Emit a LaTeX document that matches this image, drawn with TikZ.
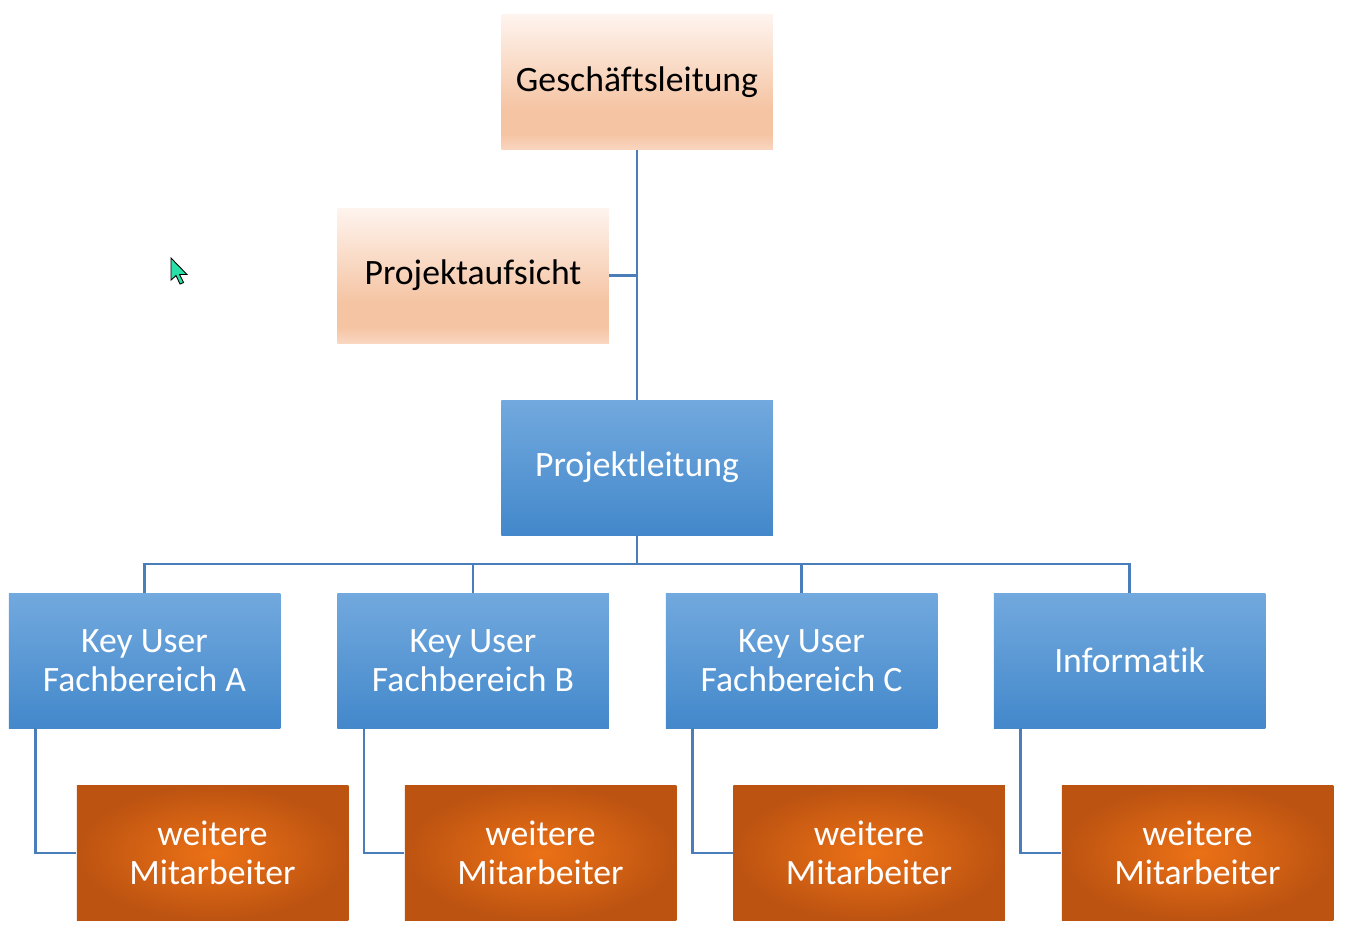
\documentclass[tikz,border=0pt]{standalone}
\usepackage{fontspec}
\setmainfont{Carlito}[Ligatures=NoCommon]
\definecolor{peachtop}{RGB}{254,244,238}
\definecolor{peachmid}{RGB}{245,196,163}
\definecolor{peachlow}{RGB}{249,214,192}
\definecolor{bluetop}{RGB}{114,169,222}
\definecolor{bluelow}{RGB}{67,136,203}
\definecolor{orangein}{RGB}{236,113,22}
\definecolor{orangeout}{RGB}{188,83,17}
\definecolor{linkblue}{RGB}{74,126,187}
\definecolor{cursorgreen}{RGB}{40,224,168}
\pgfdeclareverticalshading{peach}{100bp}{color(0bp)=(peachlow); color(25bp)=(peachlow); color(31bp)=(peachmid); color(40bp)=(peachmid); color(75bp)=(peachtop); color(100bp)=(peachtop)}
\begin{document}
\begin{tikzpicture}[line join=miter]
  \tikzstyle{box}=[rectangle,minimum width=5.43cm,minimum height=2.7cm,inner sep=2pt,align=center,font=\fontsize{20.3}{22.3}\selectfont]
  \tikzstyle{head}=[box,shading=peach,text=black]
  \tikzstyle{lead}=[box,top color=bluetop,bottom color=bluelow,text=white]
  \tikzstyle{staff}=[box,inner color=orangein,outer color=orangeout,text=white]
  \tikzstyle{link}=[draw=linkblue,line width=1.4pt]
  \useasboundingbox (0,0) rectangle (26.9,-18.62);

  \node[head] (GL) at (12.74,-1.65) {Geschäftsleitung};
  \node[head] (PA) at (9.46,-5.51)  {Projektaufsicht};
  \node[lead] (PL) at (12.74,-9.35) {Projektleitung};
  \coordinate (bus) at (12.74,-11.28);

  \node[lead] (K_1) at (2.89,-13.21)  {Key User\\Fachbereich A};
  \node[lead] (K_2) at (9.46,-13.21)  {Key User\\Fachbereich B};
  \node[lead] (K_3) at (16.03,-13.21) {Key User\\Fachbereich C};
  \node[lead] (K_4) at (22.59,-13.21) {Informatik};

  \node[staff] (M_1) at (4.25,-17.06)  {weitere\\Mitarbeiter};
  \node[staff] (M_2) at (10.81,-17.06) {weitere\\Mitarbeiter};
  \node[staff] (M_3) at (17.38,-17.06) {weitere\\Mitarbeiter};
  \node[staff] (M_4) at (23.95,-17.06) {weitere\\Mitarbeiter};

  \draw[link] (GL) -- (PL);
  \draw[link] (PA.east) -- (PA.east -| GL.south);
  \draw[link] (PL) -- (bus);
  \foreach \i in {1,...,4}
    \draw[link] (bus) -| (K_\i);
  \foreach \i in {1,...,4}
    \draw[link] ([xshift=0.54cm]K_\i.south west) |- (M_\i.west);

  % mouse pointer
  \begin{scope}[x=0.02cm,y=-0.02cm]
    \filldraw[fill=cursorgreen,draw=black,line width=0.5pt]
      (171,258) -- (171,280) -- (176,275.5) -- (180,284) -- (183.5,282.5) -- (179.5,274.5) -- (187,274.5) -- cycle;
  \end{scope}
\end{tikzpicture}
\end{document}
